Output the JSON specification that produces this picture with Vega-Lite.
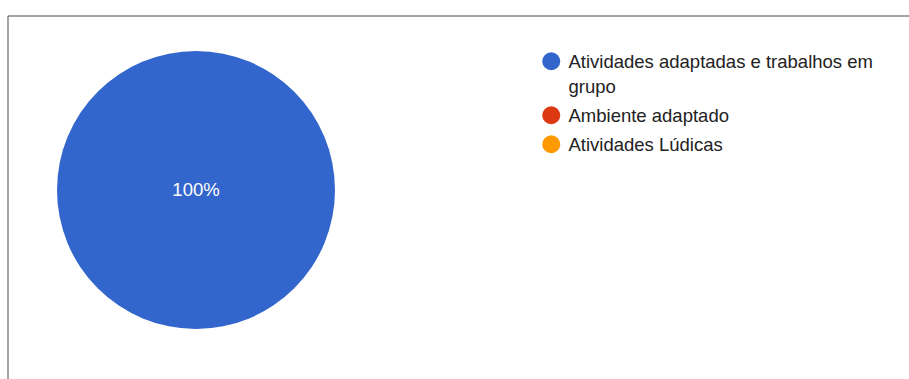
{
  "$schema": "https://vega.github.io/schema/vega-lite/v6.json",
  "autosize": {"type": "none"},
  "padding": {"left": 7.5, "top": 15.5, "right": 0, "bottom": 0},
  "width": 920,
  "height": 380,
  "background": "white",
  "view": {"stroke": "#4a4a4a", "strokeWidth": 1},
  "config": {
    "view": {"stroke": "#4a4a4a", "strokeWidth": 1},
    "font": "Liberation Sans",
    "style": {"guide-label": {"lineHeight": 25, "dy": 6.5}}
  },
  "data": {
    "values": [
      {"answer": "Atividades adaptadas e trabalhos em grupo", "share": 1},
      {"answer": "Ambiente adaptado", "share": 0},
      {"answer": "Atividades Lúdicas", "share": 0}
    ]
  },
  "layer": [
    {
      "mark": {"type": "arc", "outerRadius": 139, "x": 188.5, "y": 174.5, "stroke": null},
      "encoding": {
        "theta": {"field": "share", "type": "quantitative", "stack": true},
        "color": {
          "field": "answer",
          "type": "nominal",
          "sort": null,
          "scale": {
            "domain": ["Atividades adaptadas e trabalhos em grupo", "Ambiente adaptado", "Atividades Lúdicas"],
            "range": ["#3366cc", "#dc3912", "#ff9900"]
          },
          "legend": {
            "title": null,
            "orient": "none",
            "legendX": 534.5,
            "legendY": 36.5,
            "padding": 0,
            "symbolType": "circle",
            "symbolSize": 324,
            "symbolStrokeWidth": 0,
            "labelFont": "Liberation Sans",
            "labelFontSize": 18.5,
            "labelColor": "#222222",
            "labelLimit": 500,
            "labelOffset": 8,
            "labelBaseline": "alphabetic",
            "rowPadding": 9,
            "labelExpr": "datum.label == 'Atividades adaptadas e trabalhos em grupo' ? ['Atividades adaptadas e trabalhos em', 'grupo'] : datum.label"
          }
        }
      }
    },
    {
      "transform": [{"filter": "datum.share > 0"}],
      "mark": {"type": "text", "x": 188.5, "y": 174.5, "color": "white", "fontSize": 18.5, "font": "Liberation Sans", "baseline": "middle", "align": "center"},
      "encoding": {
        "text": {"field": "share", "type": "quantitative", "format": ".0%"}
      }
    }
  ]
}
